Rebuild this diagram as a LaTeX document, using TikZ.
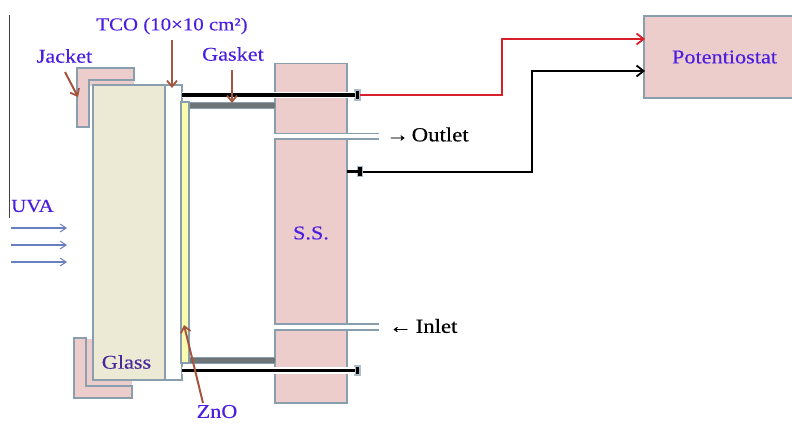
\documentclass[tikz,border=0pt]{standalone}
\usepackage{fontspec}
\setmainfont[FakeStretch=1.14,FakeBold=0.25]{Liberation Serif}
\usetikzlibrary{arrows.meta,calc}
\definecolor{pinkfill}{HTML}{EDCDCB}
\definecolor{edgeblue}{HTML}{8A9FAE}
\definecolor{glassfill}{HTML}{ECE9D4}
\definecolor{znofill}{HTML}{FBFBB0}
\definecolor{labelblue}{HTML}{4B1FE0}
\definecolor{glassink}{HTML}{4A2A9A}
\definecolor{pointer}{HTML}{A5553E}
\definecolor{uvaline}{HTML}{6A7FC0}
\definecolor{gasketgray}{HTML}{6E7578}
\definecolor{wirered}{HTML}{D8202A}
\tikzset{
  part/.style={draw=edgeblue,line width=1.8pt,inner sep=0pt,outer sep=0pt,anchor=north west},
  pinkblock/.style={part,fill=pinkfill},
  lab/.style={text=labelblue,font=\fontsize{19.5}{21}\selectfont,inner sep=0pt},
  blk/.style={text=black,font=\fontsize{20}{22}\selectfont,inner sep=0pt},
  pointerline/.style={draw=pointer,line width=2pt,-{Straight Barb[length=6pt,width=10pt,line width=1.8pt]}},
  uvaarrow/.style={draw=uvaline,line width=1.2pt,-{Straight Barb[length=6pt,width=8pt,line width=1pt]}},
  halo/.style={draw=white,line width=6.5pt},
  electrode/.style={draw=black,line width=3.8pt},
  channel/.style={draw=edgeblue,line width=1.8pt},
  gasketbar/.style={fill=gasketgray,draw=edgeblue,line width=1pt,inner sep=0pt,outer sep=0pt,anchor=north west},
  capbox/.style={fill=black,draw=edgeblue!70,line width=1.2pt,inner sep=0pt,outer sep=0pt,minimum width=5pt,minimum height=10pt},
  wire/.style={line width=2pt,-{Straight Barb[length=7pt,width=11pt,line width=1.8pt]}}
}
\begin{document}
\begin{tikzpicture}[x=1pt,y=-1pt]
\useasboundingbox (0,0) rectangle (792,423);
% left vertical line
\coordinate (vtop) at (9.5,15);
\coordinate (vbot) at (9.5,218);
\draw[draw=black!75,line width=1.2pt] (vtop) -- (vbot);
% jackets
\draw[fill=pinkfill,draw=none] (89,80) rectangle (134,86);
\draw[part,fill=pinkfill] (77,68) -- (134,68) -- (134,80) -- (89,80) -- (89,127) -- (77,127) -- cycle;
\draw[fill=pinkfill,draw=none] (86,339) rectangle (132,386);
\draw[part,fill=pinkfill] (74,338) -- (86,338) -- (86,386) -- (132,386) -- (132,398) -- (74,398) -- cycle;
% glass and TCO
\node[part,fill=glassfill,minimum width=72pt,minimum height=295pt] (glass) at (93,85) {};
\node[part,fill=white,minimum width=17pt,minimum height=295pt] (tco) at (165,85) {};
% S.S. blocks
\node[pinkblock,minimum width=72pt,minimum height=70pt] (sstop) at (275,63.5) {};
\node[pinkblock,minimum width=72pt,minimum height=185pt] (ssmid) at (275,139) {};
\node[pinkblock,minimum width=72pt,minimum height=73pt] (ssbot) at (275,330) {};
% ZnO
\node[part,fill=znofill,minimum width=8pt,minimum height=261pt] (zno) at (181,102) {};
% gaskets
\node[gasketbar,minimum width=86pt,minimum height=6pt] (gaskettop) at (189,102) {};
\node[gasketbar,minimum width=86pt,minimum height=6pt] (gasketbot) at (189,357) {};
% channels
\coordinate (outa) at (379,133.5); \coordinate (outb) at (379,139);
\coordinate (ina) at (379,324); \coordinate (inb) at (379,330);
\draw[channel] (sstop.south east) -- (outa);
\draw[channel] (ssmid.north east) -- (outb);
\draw[channel] (ssmid.south east) -- (ina);
\draw[channel] (ssbot.north east) -- (inb);
% electrodes
\node[capbox] (captop) at (357.5,95) {};
\node[capbox,minimum height=9pt] (capbot) at (357.5,370.5) {};
\node[capbox] (capmid) at (360,171.5) {};
\coordinate (elecTop) at (182,95);
\coordinate (elecBot) at (182,370.5);
\draw[halo] (elecTop) -- (captop.west);
\draw[halo] (elecBot) -- (capbot.west);
\draw[electrode] (elecTop) -- (captop.west);
\draw[electrode] (elecBot) -- (capbot.west);
\draw[draw=black,line width=2.2pt] (ssmid.east |- capmid) -- (capmid.west);
% potentiostat
\node[pinkblock,minimum width=152pt,minimum height=82pt] (pot) at (644,16) {};
\coordinate (potred) at (645,39);
\coordinate (potblack) at (645,71);
\draw[wire,draw=wirered] (captop.east) -- (502,95) -- (502,39) -- (potred);
\draw[wire,draw=black] (capmid.east) -- (532,171.5) -- (532,71) -- (potblack);
% labels
\node[lab] (lpot) at (724.5,57) {Potentiostat};
\node[lab] (lss) at (311,233) {S.S.};
\node[lab,text=glassink] (lglass) at (126.5,362) {Glass};
\node[lab] (ljacket) at (64.5,56) {Jacket};
\node[lab] (lgasket) at (233,54) {Gasket};
\node[lab,font=\fontsize{18.3}{20}\selectfont] (ltco) at (172,26) {TCO (10×10 cm²)};
\node[lab] (lzno) at (217,411.5) {ZnO};
\node[lab,anchor=west,font=\fontsize{18.3}{20}\selectfont] (luva) at (11,206) {UVA};
\node[blk,anchor=west] (lout) at (386,134.5) {→\kern2.7pt Outlet};
\node[blk,anchor=west] (lin) at (389,326) {←\kern3.7pt Inlet};
% UVA arrows
\coordinate (ua) at (11,228); \coordinate (ub) at (67,228);
\coordinate (uc) at (11,245); \coordinate (ud) at (67,245);
\coordinate (ue) at (11,262); \coordinate (uf) at (67,262);
\draw[uvaarrow] (ua) -- (ub);
\draw[uvaarrow] (uc) -- (ud);
\draw[uvaarrow] (ue) -- (uf);
% pointers
\coordinate (pj) at (65,72); \coordinate (pjt) at (78,97);
\coordinate (pt) at (172,40); \coordinate (ptt) at (172,88);
\coordinate (pg) at (232,70); \coordinate (pgt) at (232,103);
\coordinate (pz) at (203,403); \coordinate (pzt) at (184,325);
\draw[pointerline] (pj) -- (pjt);
\draw[pointerline] (pt) -- (ptt);
\draw[pointerline] (pg) -- (pgt);
\draw[pointerline] (pz) -- (pzt);
\end{tikzpicture}
\end{document}
